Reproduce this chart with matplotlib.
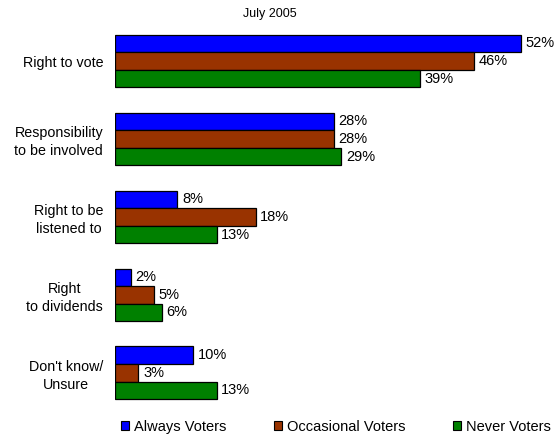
import matplotlib.pyplot as plt
import numpy as np
from matplotlib.patches import Patch

plt.rcParams['font.family'] = ['Liberation Sans', 'DejaVu Sans']

categories = ['Right to vote', 'Responsibility\nto be involved', 'Right to be\nlistened to',
              'Right\nto dividends', "Don't know/\nUnsure"]
series = ['Always Voters', 'Occasional Voters', 'Never Voters']
always = [52, 28, 8, 2, 10]
occasional = [46, 28, 18, 5, 3]
never = [39, 29, 13, 6, 13]
colors = ['#0000ff', '#993300', '#008000']

fig = plt.figure(figsize=(5.56, 4.37), dpi=100)
ax = fig.add_axes([115 / 556, 1 - 410 / 437, 441 / 556, 390 / 437])

gap = 4.43
centers = np.arange(len(categories)) * gap
for k, (vals, col) in enumerate(zip([always, occasional, never], colors)):
    ys = centers + (k - 1)
    ax.barh(ys, vals, height=1.0, color=col, edgecolor='black', linewidth=0.9)
    for y, v in zip(ys, vals):
        ax.text(v + 0.6, y, f'{v}%', va='center', ha='left', fontsize=10.5)

ax.set_xlim(0, 441 / 7.81)
ax.set_ylim(19.83, -2.33)
ax.set_yticks(centers)
ax.set_yticklabels(categories, fontsize=10.3, multialignment='center', linespacing=1.3)
ax.tick_params(axis='y', length=0, pad=8.5)
ax.set_xticks([])
for s in ax.spines.values():
    s.set_visible(False)

fig.text(270 / 556, 1 - 14 / 437, 'July 2005', ha='center', va='center', fontsize=9)

handles = [Patch(facecolor=c, edgecolor='black', linewidth=0.8) for c in colors]
fig.legend(handles, series, loc='center', bbox_to_anchor=(336 / 556, 1 - 427 / 437),
           ncol=3, frameon=False, fontsize=10.5, handlelength=0.55, handleheight=0.55,
           handletextpad=0.3, columnspacing=3.3)

fig.savefig('out.png', dpi=100)
